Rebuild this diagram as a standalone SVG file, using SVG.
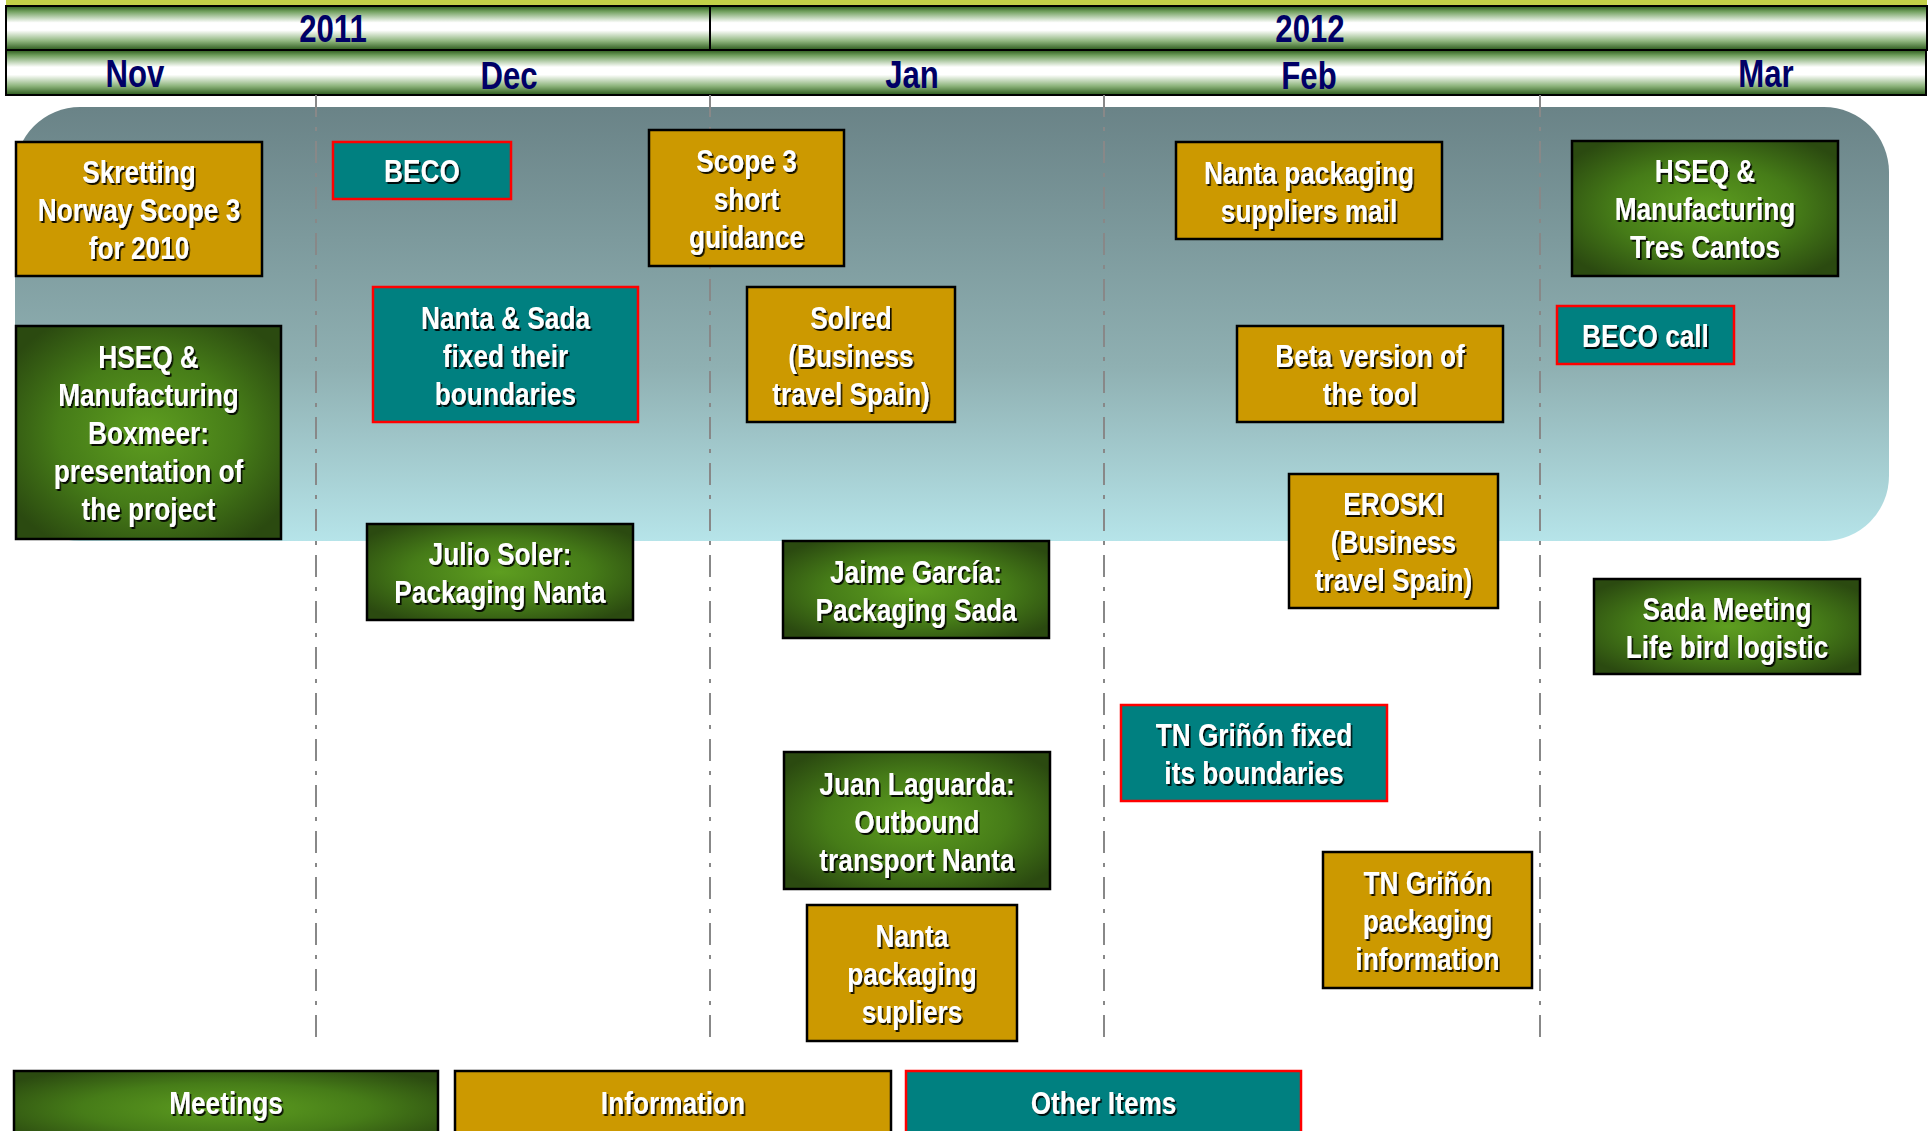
<svg xmlns="http://www.w3.org/2000/svg" width="1930" height="1131" viewBox="0 0 1930 1131">
<defs>
<linearGradient id="barG" x1="0" y1="0" x2="0" y2="1">
<stop offset="0" stop-color="#2c5a1c"/>
<stop offset="0.12" stop-color="#6f9e5c"/>
<stop offset="0.38" stop-color="#ffffff"/>
<stop offset="0.55" stop-color="#ffffff"/>
<stop offset="0.8" stop-color="#8db47c"/>
<stop offset="1" stop-color="#2c5a1c"/>
</linearGradient>
<linearGradient id="panelG" x1="0" y1="0" x2="0" y2="1">
<stop offset="0" stop-color="#6a8387"/>
<stop offset="0.6" stop-color="#8fb0b2"/>
<stop offset="1" stop-color="#b6e4e9"/>
</linearGradient>
<radialGradient id="greenG" cx="0.5" cy="0.5" r="0.62">
<stop offset="0" stop-color="#5e9e20"/>
<stop offset="0.55" stop-color="#467c18"/>
<stop offset="1" stop-color="#2b4a10"/>
</radialGradient>
<filter id="sh" x="-10%" y="-10%" width="130%" height="140%">
<feDropShadow dx="2" dy="2" stdDeviation="0.3" flood-color="#000000" flood-opacity="0.9"/>
</filter>
<style>
.hdr{font-family:"Liberation Sans",Arial,sans-serif;font-weight:bold;font-size:38px;fill:#000066;text-anchor:middle}
.t{font-family:"Liberation Sans",Arial,sans-serif;font-weight:bold;font-size:32px;fill:#ffffff;text-anchor:middle;filter:url(#sh)}
.gold{fill:#cc9900;stroke:#000000;stroke-width:2.5}
.green{fill:url(#greenG);stroke:#000000;stroke-width:2.5}
.teal{fill:#008080;stroke:#ff0000;stroke-width:2.5}
.bar{fill:url(#barG);stroke:#000000;stroke-width:2}
.vl{stroke:#888888;stroke-width:2;stroke-dasharray:22 10 4 10;fill:none}
</style>
</defs>
<rect width="1930" height="1131" fill="#ffffff"/>
<g id="header">
<rect x="6" y="0" width="1921" height="6" fill="#c3d148"/>
<rect class="bar" x="6" y="6" width="704" height="44"/>
<rect class="bar" x="710" y="6" width="1217" height="44"/>
<rect class="bar" x="6" y="50" width="1920" height="45"/>
<text class="hdr" transform="translate(333 0) scale(0.82 1)" x="0" y="42">2011</text>
<text class="hdr" transform="translate(1310 0) scale(0.82 1)" x="0" y="42">2012</text>
<text class="hdr" transform="translate(135 0) scale(0.82 1)" x="0" y="87">Nov</text>
<text class="hdr" transform="translate(509 0) scale(0.82 1)" x="0" y="89">Dec</text>
<text class="hdr" transform="translate(912 0) scale(0.82 1)" x="0" y="88">Jan</text>
<text class="hdr" transform="translate(1309 0) scale(0.82 1)" x="0" y="89">Feb</text>
<text class="hdr" transform="translate(1766 0) scale(0.82 1)" x="0" y="87">Mar</text>
</g>
<rect id="panel" x="15" y="107" width="1874" height="434" rx="65" ry="65" fill="url(#panelG)"/>
<g id="gridlines">
<line class="vl" x1="316" y1="95" x2="316" y2="1046"/>
<line class="vl" x1="710" y1="95" x2="710" y2="1046"/>
<line class="vl" x1="1104" y1="95" x2="1104" y2="1046"/>
<line class="vl" x1="1540" y1="95" x2="1540" y2="1046"/>
</g>
<g id="connectors"></g>
<g id="skretting"><rect class="gold" x="16" y="142" width="246" height="134"/>
<g transform="translate(139 0) scale(0.82 1)"><text class="t" x="0" y="183">Skretting</text><text class="t" x="0" y="221">Norway Scope 3</text><text class="t" x="0" y="259">for 2010</text></g></g>
<g id="beco"><rect class="teal" x="333" y="142" width="178" height="57"/>
<g transform="translate(422 0) scale(0.82 1)"><text class="t" x="0" y="182.5">BECO</text></g></g>
<g id="scope3"><rect class="gold" x="649" y="130" width="195" height="136"/>
<g transform="translate(746.5 0) scale(0.82 1)"><text class="t" x="0" y="172">Scope 3</text><text class="t" x="0" y="210">short</text><text class="t" x="0" y="248">guidance</text></g></g>
<g id="nantaMail"><rect class="gold" x="1176" y="142" width="266" height="97"/>
<g transform="translate(1309 0) scale(0.82 1)"><text class="t" x="0" y="184">Nanta packaging</text><text class="t" x="0" y="222">suppliers mail</text></g></g>
<g id="hseqTres"><rect class="green" x="1572" y="141" width="266" height="135"/>
<g transform="translate(1705 0) scale(0.82 1)"><text class="t" x="0" y="182.5">HSEQ &amp;</text><text class="t" x="0" y="220.5">Manufacturing</text><text class="t" x="0" y="258.5">Tres Cantos</text></g></g>
<g id="hseqBoxmeer"><rect class="green" x="16" y="326" width="265" height="213"/>
<g transform="translate(148.5 0) scale(0.82 1)"><text class="t" x="0" y="368.5">HSEQ &amp;</text><text class="t" x="0" y="406.5">Manufacturing</text><text class="t" x="0" y="444.5">Boxmeer:</text><text class="t" x="0" y="482.5">presentation of</text><text class="t" x="0" y="520.5">the project</text></g></g>
<g id="nantaSada"><rect class="teal" x="373" y="287" width="265" height="135"/>
<g transform="translate(505.5 0) scale(0.82 1)"><text class="t" x="0" y="329">Nanta &amp; Sada</text><text class="t" x="0" y="367">fixed their</text><text class="t" x="0" y="405">boundaries</text></g></g>
<g id="solred"><rect class="gold" x="747" y="287" width="208" height="135"/>
<g transform="translate(851 0) scale(0.82 1)"><text class="t" x="0" y="329">Solred</text><text class="t" x="0" y="367">(Business</text><text class="t" x="0" y="405">travel Spain)</text></g></g>
<g id="beta"><rect class="gold" x="1237" y="326" width="266" height="96"/>
<g transform="translate(1370 0) scale(0.82 1)"><text class="t" x="0" y="367.5">Beta version of</text><text class="t" x="0" y="405.5">the tool</text></g></g>
<g id="becoCall"><rect class="teal" x="1557" y="306" width="177" height="58"/>
<g transform="translate(1645.5 0) scale(0.82 1)"><text class="t" x="0" y="347.5">BECO call</text></g></g>
<g id="julio"><rect class="green" x="367" y="524" width="266" height="96"/>
<g transform="translate(500 0) scale(0.82 1)"><text class="t" x="0" y="565.5">Julio Soler:</text><text class="t" x="0" y="603.5">Packaging Nanta</text></g></g>
<g id="jaime"><rect class="green" x="783" y="541" width="266" height="97"/>
<g transform="translate(916 0) scale(0.82 1)"><text class="t" x="0" y="583">Jaime García:</text><text class="t" x="0" y="621">Packaging Sada</text></g></g>
<g id="eroski"><rect class="gold" x="1289" y="474" width="209" height="134"/>
<g transform="translate(1393.5 0) scale(0.82 1)"><text class="t" x="0" y="515.5">EROSKI</text><text class="t" x="0" y="553.5">(Business</text><text class="t" x="0" y="591.5">travel Spain)</text></g></g>
<g id="sada"><rect class="green" x="1594" y="579" width="266" height="95"/>
<g transform="translate(1727 0) scale(0.82 1)"><text class="t" x="0" y="620">Sada Meeting</text><text class="t" x="0" y="658">Life bird logistic</text></g></g>
<g id="tnFixed"><rect class="teal" x="1121" y="705" width="266" height="96"/>
<g transform="translate(1254 0) scale(0.82 1)"><text class="t" x="0" y="746.5">TN Griñón fixed</text><text class="t" x="0" y="784.5">its boundaries</text></g></g>
<g id="juan"><rect class="green" x="784" y="752" width="266" height="137"/>
<g transform="translate(917 0) scale(0.82 1)"><text class="t" x="0" y="795">Juan Laguarda:</text><text class="t" x="0" y="833">Outbound</text><text class="t" x="0" y="871">transport Nanta</text></g></g>
<g id="tnPack"><rect class="gold" x="1323" y="852" width="209" height="136"/>
<g transform="translate(1427.5 0) scale(0.82 1)"><text class="t" x="0" y="894.5">TN Griñón</text><text class="t" x="0" y="932.5">packaging</text><text class="t" x="0" y="970.5">information</text></g></g>
<g id="nantaSup"><rect class="gold" x="807" y="905" width="210" height="136"/>
<g transform="translate(912 0) scale(0.82 1)"><text class="t" x="0" y="947.5">Nanta</text><text class="t" x="0" y="985.5">packaging</text><text class="t" x="0" y="1023.5">supliers</text></g></g>
<g id="legendMeetings"><rect class="green" x="14" y="1071" width="424" height="75"/>
<g transform="translate(226 0) scale(0.82 1)"><text class="t" x="0" y="1114">Meetings</text></g></g>
<g id="legendInformation"><rect class="gold" x="455" y="1071" width="436" height="75"/>
<g transform="translate(673 0) scale(0.82 1)"><text class="t" x="0" y="1114">Information</text></g></g>
<g id="legendOther"><rect class="teal" x="906" y="1071" width="395" height="75"/>
<g transform="translate(1103.5 0) scale(0.82 1)"><text class="t" x="0" y="1114">Other Items</text></g></g>
</svg>
